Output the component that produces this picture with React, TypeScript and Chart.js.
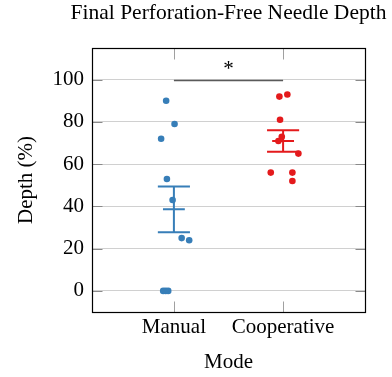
import React, { useEffect, useRef } from "react";
import { Chart, registerables } from "chart.js";

Chart.register(...registerables);

const chartTitle = "Final Perforation-Free Needle Depth";
const categories = ["Manual", "Cooperative"];
const manualValues = [90, 79, 72, 53, 43, 25, 24, 0, 0, 0];
const manualJitter = [-0.071, 0.006, -0.117, -0.064, -0.012, 0.071, 0.14, -0.098, -0.075, -0.052];
const coopValues = [93, 92, 81, 73, 71, 65, 56, 56, 52];
const coopJitter = [0.039, -0.034, -0.028, -0.012, -0.043, 0.14, -0.113, 0.085, 0.085];
const yTicks = [0, 20, 40, 60, 80, 100];
const seriesColors = ["#377eb8", "#e41a1c"];
const sigPair = [1, 2];
const sigLevel = 100;
const sigLabel = "*";

const FONT = "'Liberation Serif', 'Times New Roman', serif";

function stats(v: number[]) {
  const n = v.length;
  const m = v.reduce((a, b) => a + b, 0) / n;
  const sd = Math.sqrt(v.reduce((a, b) => a + (b - m) * (b - m), 0) / (n - 1));
  return { m, se: sd / Math.sqrt(n) };
}

function errorBar(cx: number, values: number[]) {
  const { m, se } = stats(values);
  const cap = 0.147;
  const half = 0.1;
  const gap = () => ({ x: cx, y: null as any });
  return [
    { x: cx - cap, y: m + se }, { x: cx + cap, y: m + se }, gap(),
    { x: cx - half, y: m }, { x: cx + half, y: m }, gap(),
    { x: cx - cap, y: m - se }, { x: cx + cap, y: m - se }, gap(),
    { x: cx, y: m - se }, { x: cx, y: m + se },
  ];
}

const decor = {
  id: "decor",
  afterDatasetsDraw(chart: any) {
    const { ctx, chartArea } = chart;
    const xs = chart.scales.x;
    const ys = chart.scales.y;
    const l = Math.round(chartArea.left) + 0.5;
    const r = Math.round(chartArea.right) + 0.5;
    const t = Math.round(chartArea.top) + 0.5;
    const b = Math.round(chartArea.bottom) + 0.5;
    ctx.save();
    // y tick marks inside
    ctx.strokeStyle = "#8a8a8a";
    ctx.lineWidth = 1;
    yTicks.forEach((v) => {
      const y = Math.round(ys.getPixelForValue(v)) + 0.5;
      ctx.beginPath();
      ctx.moveTo(l, y);
      ctx.lineTo(l + 10, y);
      ctx.moveTo(r, y);
      ctx.lineTo(r - 10, y);
      ctx.stroke();
    });
    // x tick marks inside
    ctx.strokeStyle = "#a0a0a0";
    categories.forEach((_, i) => {
      const x = Math.round(xs.getPixelForValue(i + 1)) + 0.5;
      ctx.beginPath();
      ctx.moveTo(x, t);
      ctx.lineTo(x, t + 11);
      ctx.moveTo(x, b);
      ctx.lineTo(x, b - 11);
      ctx.stroke();
    });
    // significance
    const sy = Math.round(ys.getPixelForValue(sigLevel)) + 0.5;
    ctx.strokeStyle = "#5a5a5a";
    ctx.lineWidth = 1.3;
    ctx.beginPath();
    ctx.moveTo(xs.getPixelForValue(sigPair[0]), sy);
    ctx.lineTo(xs.getPixelForValue(sigPair[1]), sy);
    ctx.stroke();
    ctx.fillStyle = "#000";
    ctx.font = `21px ${FONT}`;
    ctx.textAlign = "center";
    ctx.textBaseline = "middle";
    ctx.fillText(sigLabel, xs.getPixelForValue((sigPair[0] + sigPair[1]) / 2), ys.getPixelForValue(sigLevel + 5));
    // frame
    ctx.strokeStyle = "#000";
    ctx.lineWidth = 1.2;
    ctx.strokeRect(l, t, r - l, b - t);
    // title
    ctx.fillStyle = "#000";
    ctx.font = `21.5px ${FONT}`;
    ctx.textAlign = "center";
    ctx.textBaseline = "alphabetic";
    ctx.fillText(chartTitle, (chartArea.left + chartArea.right) / 2, 18.5);
    ctx.restore();
  },
};

export default function App() {
  const ref = useRef<HTMLCanvasElement>(null);
  useEffect(() => {
    if (!ref.current) return;
    Chart.defaults.font.family = FONT;
    Chart.defaults.color = "#000";
    const pts = (vals: number[], jit: number[], cx: number) =>
      vals.map((v, i) => ({ x: cx + jit[i], y: v }));
    const chart = new Chart(ref.current, {
      type: "scatter",
      data: {
        datasets: [
          {
            label: categories[0],
            data: pts(manualValues, manualJitter, 1),
            backgroundColor: seriesColors[0],
            borderWidth: 0,
            pointRadius: 3.3,
          },
          {
            label: categories[1],
            data: pts(coopValues, coopJitter, 2),
            backgroundColor: seriesColors[1],
            borderWidth: 0,
            pointRadius: 3.3,
          },
          {
            label: "err1",
            data: errorBar(1, manualValues),
            showLine: true,
            spanGaps: false,
            borderColor: seriesColors[0],
            borderWidth: 2,
            pointRadius: 0,
          } as any,
          {
            label: "err2",
            data: errorBar(2, coopValues),
            showLine: true,
            spanGaps: false,
            borderColor: seriesColors[1],
            borderWidth: 2,
            pointRadius: 0,
          } as any,
        ],
      },
      options: {
        responsive: false,
        animation: false,
        layout: { padding: { left: 0, right: 27, top: 48, bottom: 0 } },
        plugins: {
          legend: { display: false },
          tooltip: { enabled: false },
          title: { display: false },
        },
        scales: {
          x: {
            type: "linear",
            min: 0.25,
            max: 2.75,
            afterBuildTicks: (s: any) => {
              s.ticks = categories.map((_, i) => ({ value: i + 1 }));
            },
            afterFit: (s: any) => {
              s.height = 65;
            },
            ticks: {
              callback: (v: any) => categories[Math.round(Number(v)) - 1] ?? "",
              font: { size: 21 },
              padding: 3,
              maxRotation: 0,
              autoSkip: false,
            },
            grid: { display: false, drawTicks: false },
            border: { display: false },
            title: {
              display: true,
              text: "Mode",
              font: { size: 21 },
              padding: { top: 0, bottom: 2 },
            },
          },
          y: {
            min: -10,
            max: 115,
            afterBuildTicks: (s: any) => {
              s.ticks = yTicks.map((v) => ({ value: v }));
            },
            afterFit: (s: any) => {
              s.width = 92;
            },
            ticks: { font: { size: 21 }, padding: 8 },
            grid: { color: "#d0d0d0", drawTicks: false, lineWidth: 1 },
            border: { display: false },
            title: {
              display: true,
              text: "Depth (%)",
              font: { size: 21 },
              padding: { top: 14, bottom: 0 },
            },
          },
        },
      } as any,
      plugins: [decor],
    });
    return () => chart.destroy();
  }, []);
  return (
    <div style={{ position: "absolute", left: 0, top: 0, width: 392, height: 377 }}>
      <canvas ref={ref} width={392} height={377} style={{ display: "block" }} />
    </div>
  );
}
